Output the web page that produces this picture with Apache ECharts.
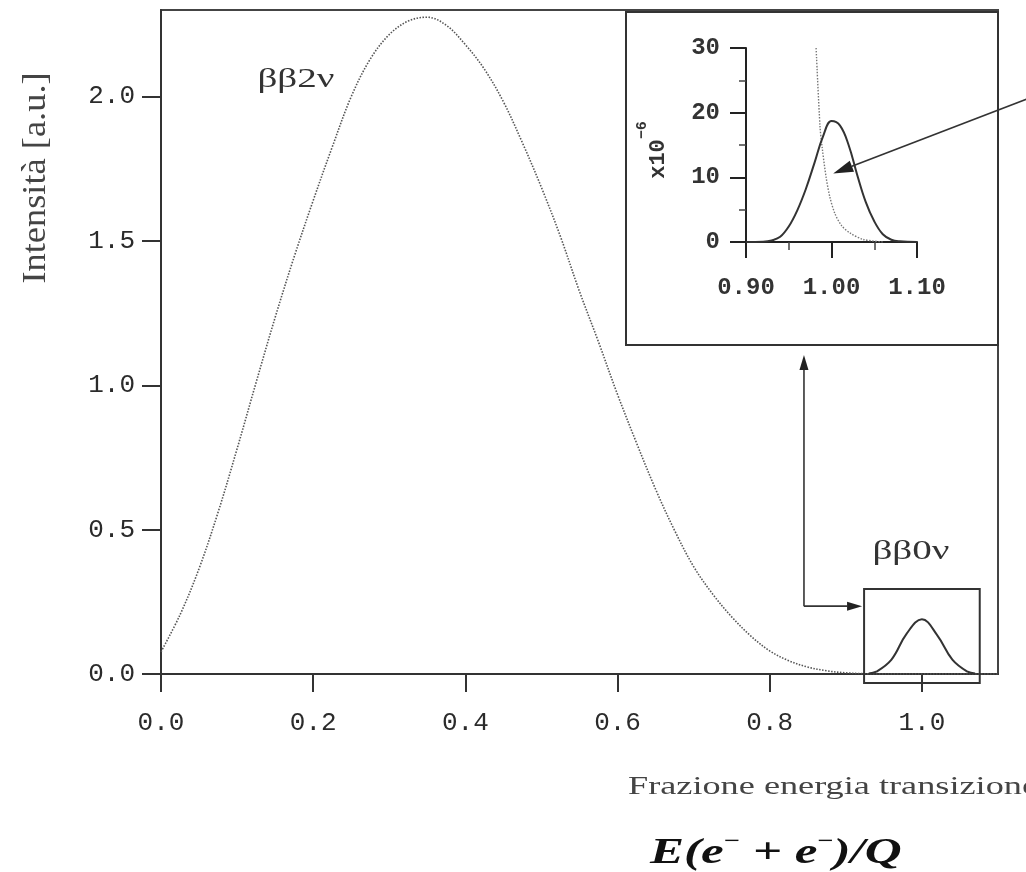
<!DOCTYPE html>
<html>
<head>
<meta charset="utf-8">
<script src="https://cdn.jsdelivr.net/npm/echarts@6/dist/echarts.min.js"></script>
<style>
  html, body { margin: 0; background: #fff; }
  #chart { width: 1026px; height: 872px; }
</style>
</head>
<body>
<div id="chart"></div>
<script>
// spettro bb2v, intensità in unità arbitrarie
const twoNuX = [0, 0.025, 0.05, 0.075, 0.1, 0.125, 0.15, 0.175, 0.2, 0.225, 0.25, 0.275, 0.3, 0.325, 0.35,
  0.375, 0.4, 0.425, 0.45, 0.475, 0.5, 0.525, 0.55, 0.575, 0.6, 0.625, 0.65, 0.675, 0.7, 0.725,
  0.75, 0.775, 0.8, 0.825, 0.85, 0.875, 0.9, 0.925, 0.95, 1.1];
const twoNuY = [0.077, 0.205, 0.365, 0.56, 0.78, 1.01, 1.235, 1.445, 1.64, 1.825, 2.0, 2.13, 2.215, 2.262, 2.275,
  2.247, 2.18, 2.095, 1.982, 1.84, 1.685, 1.515, 1.325, 1.15, 0.968, 0.8, 0.64, 0.497, 0.372, 0.277,
  0.198, 0.132, 0.080, 0.046, 0.024, 0.011, 0.004, 0.001, 0, 0];

// picco bb0v nel grafico principale
const peakX = [0.93, 0.94, 0.96, 0.98, 1.0, 1.02, 1.04, 1.06, 1.07];
const peakY = [0.002, 0.008, 0.05, 0.14, 0.19, 0.135, 0.05, 0.008, 0.002];

// ingrandimento (x10^-6)
const tailX = [0.982, 0.9866, 0.989, 0.9936, 0.998, 1.004, 1.012, 1.0216, 1.037, 1.06];
const tailY = [30, 17.8, 14.7, 10.1, 7.0, 4.4, 2.5, 1.4, 0.4, 0];
const zeroNuX = [0.9, 0.92, 0.93, 0.94, 0.95, 0.96, 0.97, 0.98, 0.99, 1.0, 1.01, 1.02, 1.03, 1.04, 1.05, 1.06, 1.07, 1.08, 1.1];
const zeroNuY = [0, 0.05, 0.25, 0.8, 2.4, 4.9, 8.2, 12.2, 16.3, 18.7, 18.0, 15.0, 10.4, 6.2, 3.2, 1.2, 0.35, 0.1, 0];

const mainXTicks = [0, 0.2, 0.4, 0.6, 0.8, 1.0];
const mainYTicks = [0, 0.5, 1.0, 1.5, 2.0];

const zip = (xs, ys) => xs.map((x, i) => [x, ys[i]]);

const ink = '#2b2b2b';
const mono = 'Liberation Mono';
const serif = 'Liberation Serif';

const chart = echarts.init(document.getElementById('chart'));

chart.setOption({
  animation: false,
  backgroundColor: '#fff',
  grid: [
    { left: 161, top: 10, width: 837, height: 664, show: true, borderColor: '#444', borderWidth: 2 },
    { left: 746, top: 48, width: 171, height: 194 }
  ],
  xAxis: [
    {
      gridIndex: 0, type: 'value', min: 0, max: 1.1,
      axisLine: { show: true, lineStyle: { color: '#333', width: 2 } },
      axisTick: { show: true, customValues: mainXTicks, length: 18, lineStyle: { color: '#333', width: 2 } },
      axisLabel: { customValues: mainXTicks, formatter: v => v.toFixed(1), margin: 36,
        fontFamily: mono, fontSize: 26, color: ink },
      splitLine: { show: false }
    },
    {
      gridIndex: 1, type: 'value', min: 0.9, max: 1.1, interval: 0.1,
      axisLine: { show: true, lineStyle: { color: '#222', width: 2 } },
      axisTick: { show: true, length: 16, lineStyle: { color: '#222', width: 2 } },
      minorTick: { show: true, splitNumber: 2, length: 8, lineStyle: { color: '#444', width: 1.5 } },
      axisLabel: { formatter: v => v.toFixed(2), margin: 34, fontFamily: mono, fontSize: 24,
        fontWeight: 'bold', color: '#333' },
      splitLine: { show: false }
    }
  ],
  yAxis: [
    {
      gridIndex: 0, type: 'value', min: 0, max: 2.3,
      axisLine: { show: true, lineStyle: { color: '#333', width: 2 } },
      axisTick: { show: true, customValues: mainYTicks, length: 19, lineStyle: { color: '#333', width: 2 } },
      axisLabel: { customValues: mainYTicks, formatter: v => v.toFixed(1), margin: 26,
        fontFamily: mono, fontSize: 26, color: ink },
      splitLine: { show: false }
    },
    {
      gridIndex: 1, type: 'value', min: 0, max: 30, interval: 10,
      axisLine: { show: true, lineStyle: { color: '#222', width: 2 } },
      axisTick: { show: true, length: 16, lineStyle: { color: '#222', width: 2 } },
      minorTick: { show: true, splitNumber: 2, length: 7, lineStyle: { color: '#444', width: 1.5 } },
      axisLabel: { margin: 26, fontFamily: mono, fontSize: 24, fontWeight: 'bold', color: '#333' },
      splitLine: { show: false }
    }
  ],
  series: [
    {
      type: 'line', xAxisIndex: 0, yAxisIndex: 0, data: zip(twoNuX, twoNuY),
      showSymbol: false, symbol: 'none', smooth: 0.35, silent: true,
      lineStyle: { color: '#555', width: 1.6, type: [1.5, 1.5] }
    },
    {
      type: 'line', xAxisIndex: 0, yAxisIndex: 0, data: zip(peakX, peakY),
      showSymbol: false, symbol: 'none', smooth: 0.4, silent: true,
      lineStyle: { color: '#333', width: 2 }
    },
    {
      type: 'line', xAxisIndex: 1, yAxisIndex: 1, data: zip(tailX, tailY),
      showSymbol: false, symbol: 'none', smooth: 0.3, silent: true,
      lineStyle: { color: '#777', width: 1.4, type: [1.5, 1.5] }
    },
    {
      type: 'line', xAxisIndex: 1, yAxisIndex: 1, data: zip(zeroNuX, zeroNuY),
      showSymbol: false, symbol: 'none', smooth: 0.4, silent: true,
      lineStyle: { color: '#333', width: 2 }
    }
  ]
});

// frecce e riquadri
function arrow(a, b, len, half) {
  const dx = b[0] - a[0], dy = b[1] - a[1];
  const L = Math.hypot(dx, dy), ux = dx / L, uy = dy / L;
  const base = [b[0] - ux * len, b[1] - uy * len];
  return [
    { type: 'line', z: 20, shape: { x1: a[0], y1: a[1], x2: base[0], y2: base[1] },
      style: { stroke: '#333', lineWidth: 1.6 } },
    { type: 'polygon', z: 20,
      shape: { points: [b, [base[0] - uy * half, base[1] + ux * half], [base[0] + uy * half, base[1] - ux * half]] },
      style: { fill: '#222' } }
  ];
}

const px = (g, pt) => chart.convertToPixel({ gridIndex: g }, pt);

const insetBox = { x: 626, y: 12, w: 372, h: 333 };
const boxA = px(0, [0.924, 0.294]);
const boxB = px(0, [1.076, -0.031]);
const elbow = px(0, [0.845, 0.235]);
const longFrom = [1032, 97];
const longTo = px(1, [1.002, 10.6]);

const graphics = [
  { type: 'rect', z: 15, shape: { x: insetBox.x, y: insetBox.y, width: insetBox.w, height: insetBox.h },
    style: { fill: null, stroke: '#333', lineWidth: 2 } },
  { type: 'rect', z: 15, shape: { x: boxA[0], y: boxA[1], width: boxB[0] - boxA[0], height: boxB[1] - boxA[1] },
    style: { fill: null, stroke: '#333', lineWidth: 2 } },
  ...arrow(elbow, [boxA[0] - 2, elbow[1]], 15, 4.5),
  ...arrow(elbow, [elbow[0], insetBox.y + insetBox.h + 10], 15, 4.5),
  ...arrow(longFrom, longTo, 20, 6),
  { type: 'text', z: 20, x: 296, y: 80, scaleX: 1.45,
    style: { text: 'ββ2ν', font: '27px "Liberation Serif"', fill: '#333', align: 'center', verticalAlign: 'middle' } },
  { type: 'text', z: 20, x: 911, y: 552, scaleX: 1.45,
    style: { text: 'ββ0ν', font: '27px "Liberation Serif"', fill: '#333', align: 'center', verticalAlign: 'middle' } },
  { type: 'text', z: 20, x: 36, y: 178, rotation: Math.PI / 2, scaleX: 1.3, scaleY: 1.2,
    style: { text: 'Intensità [a.u.]', font: '28px "Liberation Serif"', fill: '#444', align: 'center', verticalAlign: 'middle' } },
  { type: 'text', z: 20, x: 628, y: 787, scaleX: 1.45,
    style: { text: 'Frazione energia transizione', font: '25px "Liberation Serif"', fill: '#444', align: 'left', verticalAlign: 'middle' } },
  { type: 'text', z: 20, x: 650, y: 852, scaleX: 1.42,
    style: {
      text: '{m|E(e}{s|−}{m| + e}{s|−}{m|)/Q}', align: 'left', verticalAlign: 'middle',
      rich: {
        m: { fontFamily: serif, fontStyle: 'italic', fontWeight: 'bold', fontSize: 36, lineHeight: 40, verticalAlign: 'bottom', fill: '#111' },
        s: { fontFamily: serif, fontWeight: 'bold', fontSize: 20, lineHeight: 22, verticalAlign: 'top', fill: '#111' }
      }
    } },
  { type: 'text', z: 20, x: 652, y: 150, rotation: Math.PI / 2,
    style: {
      text: '{m|x10}{s|−6}', align: 'center', verticalAlign: 'middle',
      rich: {
        m: { fontFamily: mono, fontWeight: 'bold', fontSize: 22, lineHeight: 34, verticalAlign: 'bottom', fill: '#333' },
        s: { fontFamily: mono, fontWeight: 'bold', fontSize: 15, lineHeight: 18, verticalAlign: 'top', fill: '#333' }
      }
    } }
];

chart.setOption({ graphic: graphics });
</script>
</body>
</html>
